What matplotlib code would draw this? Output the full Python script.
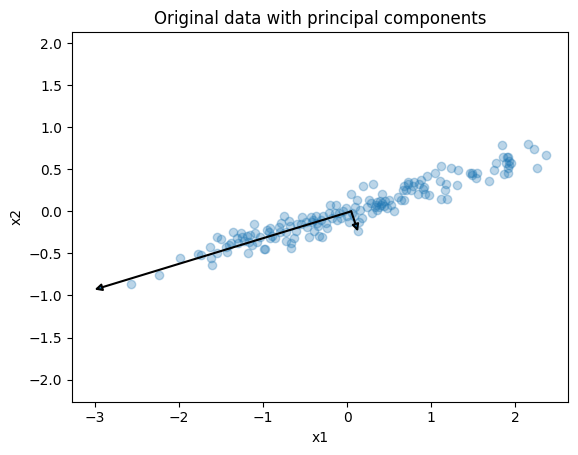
import numpy as np
import matplotlib.pyplot as plt

# points
x1 = [-2.57, -2.24, -1.99, -1.77, -1.74, -1.63, -1.62, -1.61, -1.55, -1.55,
      -1.50, -1.44, -1.43, -1.38, -1.36, -1.31, -1.29, -1.26, -1.23, -1.19,
      -1.18, -1.17, -1.13, -1.11, -1.09, -1.07, -1.04, -0.99, -0.93, -0.92,
      -0.97, -0.91, -0.89, -0.85, -0.81, -0.78, -0.75, -0.73, -0.72, -0.69,
      -0.68, -0.67, -0.66, -0.63, -0.61, -0.53, -0.49, -0.48, -0.45, -0.43,
      -0.42, -0.39, -0.37, -0.36, -0.33, -0.31, -0.30, -0.25, -0.24, -0.21,
      -0.20, -0.18, -0.14, -0.12, -0.13, -0.07, -0.01, 0.02, 0.05, 0.06,
      0.12, 0.13, 0.14, 0.18, 0.19, 0.24, 0.26, 0.30, 0.31, 0.35,
      0.36, 0.38, 0.41, 0.42, 0.47, 0.50, 0.52, 0.56, 0.60, 0.64,
      0.66, 0.68, 0.72, 0.68, 0.72, 0.76, 0.80, 0.84, 0.88, 0.92,
      0.93, 0.95, 0.97, 1.04, 1.10, 1.12, 1.16, 1.18, 1.12, 1.19,
      1.23, 1.31, 1.32, 1.46, 1.48, 1.49, 1.53, 1.54, 1.69, 1.75,
      1.77, 1.84, 1.85, 1.86, 1.89, 1.90, 1.91, 1.91, 1.92, 1.93,
      1.95, 1.91, 2.15, 2.22, 2.36, 2.26,
      0.36, 0.40, 0.33, 0.44, 0.39, 0.78, 0.86, 0.90, 0.70,
      -0.55, -0.35, -0.28, -0.10, -0.05, 0.00, 0.08, 0.10,
      -1.40, -1.25, -1.15, -0.95, -0.80, -0.60, -0.40, 0.15, 0.28, 0.45]
x2 = [-0.86, -0.76, -0.55, -0.51, -0.52, -0.43, -0.56, -0.64, -0.31, -0.50,
      -0.33, -0.43, -0.48, -0.38, -0.24, -0.32, -0.38, -0.26, -0.35, -0.29,
      -0.50, -0.37, -0.40, -0.15, -0.26, -0.37, -0.31, -0.45, -0.25, -0.32,
      -0.45, -0.20, -0.29, -0.32, -0.19, -0.14, -0.06, -0.25, -0.35, -0.11,
      -0.17, -0.38, -0.44, -0.32, -0.23, -0.07, -0.13, -0.19, -0.30, -0.07,
      -0.13, -0.23, -0.05, -0.14, -0.29, -0.10, -0.31, -0.14, -0.20, -0.02,
      0.07, -0.08, -0.02, -0.10, 0.07, -0.08, 0.04, -0.13, 0.21, -0.02,
      0.13, -0.23, -0.13, -0.08, 0.30, 0.05, 0.13, -0.02, 0.32, 0.07,
      0.11, 0.05, 0.21, 0.10, 0.04, 0.13, 0.07, 0.00, 0.17, 0.13,
      0.25, 0.30, 0.35, 0.13, 0.33, 0.25, 0.35, 0.21, 0.37, 0.29,
      0.21, 0.42, 0.19, 0.45, 0.36, 0.54, 0.25, 0.33, 0.15, 0.15,
      0.52, 0.31, 0.49, 0.45, 0.45, 0.43, 0.40, 0.46, 0.36, 0.49,
      0.58, 0.79, 0.64, 0.44, 0.57, 0.64, 0.51, 0.65, 0.60, 0.55,
      0.57, 0.46, 0.80, 0.74, 0.67, 0.52,
      0.02, 0.08, 0.05, 0.06, 0.12, 0.30, 0.32, 0.26, 0.25,
      -0.15, -0.18, -0.05, -0.02, 0.00, -0.05, -0.05, 0.05,
      -0.40, -0.30, -0.28, -0.22, -0.25, -0.15, -0.10, 0.02, 0.10, 0.12]

# principal component arrows: start (mean) and tips
arrow_start = [(0.05, 0.0), (0.05, 0.0)]
arrow_end = [(-3.0, -0.93), (0.13, -0.24)]

fig = plt.figure(figsize=(5.78, 4.55), dpi=100)
ax = fig.add_axes([0.1246, 0.1174, 0.8584, 0.8123])

ax.scatter(x1, x2, alpha=0.3)
for s, e in zip(arrow_start, arrow_end):
    ax.annotate('', e, s, arrowprops=dict(arrowstyle='-|>', linewidth=1.5,
                                          edgecolor='black', facecolor='C0',
                                          shrinkA=0, shrinkB=0))
# let the arrow tips count for the limits
ax.update_datalim(arrow_end)
ax.autoscale_view()
ax.axis('equal')
ax.set_xlabel('x1')
ax.set_ylabel('x2')
ax.set_title('Original data with principal components')

fig.savefig('out.png')
